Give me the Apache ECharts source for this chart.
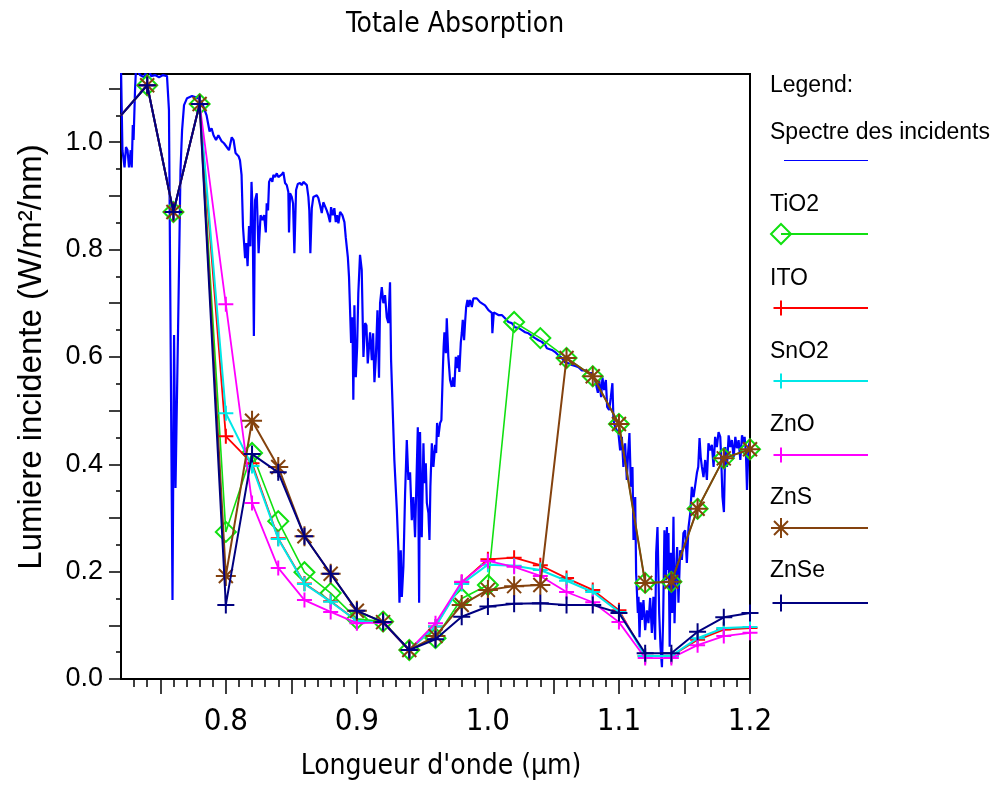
<!DOCTYPE html>
<html>
<head>
<meta charset="utf-8">
<script src="https://cdn.jsdelivr.net/npm/echarts@6/dist/echarts.min.js"></script>
<style>
  html, body { margin: 0; padding: 0; background: #ffffff; }
  #chart { width: 999px; height: 785px; }
</style>
</head>
<body>
<div id="chart"></div>
<script>
// ---- Incident solar spectrum (wavelength in µm, W/m²/nm) ----
const specWave = [
  0.7200,0.7211,0.7227,0.7238,0.7250,0.7261,0.7274,0.7282,0.7290,0.7296,0.7307,0.7315,0.7345,0.7376,0.7406,0.7429,0.7460,0.7490,0.7521,0.7551,
  0.7566,0.7593,0.7605,0.7616,0.7639,0.7654,0.7666,0.7681,0.7704,0.7742,0.7788,0.7816,0.7853,0.7876,0.7891,0.7906,0.7925,0.7943,0.7967,0.7986,
  0.8007,0.8024,0.8045,0.8059,0.8074,0.8097,0.8108,0.8120,0.8131,0.8147,0.8156,0.8166,0.8177,0.8187,0.8196,0.8204,0.8214,0.8223,0.8236,0.8250,
  0.8265,0.8279,0.8292,0.8305,0.8312,0.8322,0.8330,0.8343,0.8355,0.8363,0.8376,0.8389,0.8401,0.8414,0.8427,0.8439,0.8452,0.8465,0.8477,0.8482,
  0.8490,0.8503,0.8513,0.8523,0.8536,0.8549,0.8566,0.8579,0.8592,0.8605,0.8618,0.8630,0.8637,0.8645,0.8656,0.8668,0.8681,0.8694,0.8706,0.8719,
  0.8732,0.8744,0.8757,0.8770,0.8782,0.8795,0.8803,0.8816,0.8828,0.8839,0.8849,0.8859,0.8872,0.8889,0.8905,0.8915,0.8931,0.8940,0.8948,0.8956,
  0.8966,0.8973,0.8981,0.8992,0.9002,0.9011,0.9024,0.9037,0.9050,0.9063,0.9073,0.9083,0.9101,0.9114,0.9124,0.9134,0.9144,0.9157,0.9169,0.9177,
  0.9190,0.9202,0.9215,0.9228,0.9240,0.9253,0.9261,0.9271,0.9286,0.9305,0.9317,0.9325,0.9335,0.9343,0.9355,0.9368,0.9381,0.9393,0.9406,0.9419,
  0.9431,0.9444,0.9453,0.9465,0.9475,0.9482,0.9495,0.9508,0.9515,0.9526,0.9534,0.9546,0.9554,0.9561,0.9572,0.9584,0.9597,0.9605,0.9612,0.9622,
  0.9635,0.9645,0.9656,0.9662,0.9668,0.9679,0.9686,0.9698,0.9711,0.9724,0.9734,0.9744,0.9755,0.9765,0.9775,0.9782,0.9793,0.9801,0.9808,0.9818,
  0.9826,0.9834,0.9844,0.9851,0.9864,0.9877,0.9889,0.9902,0.9915,0.9927,0.9940,0.9953,0.9978,0.9992,1.0004,1.0017,1.0030,1.0034,1.0045,1.0055,
  1.0080,1.0106,1.0131,1.0156,1.0182,1.0208,1.0233,1.0259,1.0284,1.0309,1.0335,1.0360,1.0386,1.0411,1.0437,1.0450,1.0462,1.0488,1.0513,1.0538,
  1.0564,1.0589,1.0615,1.0640,1.0666,1.0691,1.0717,1.0742,1.0767,1.0793,1.0818,1.0839,1.0849,1.0864,1.0874,1.0887,1.0900,1.0910,1.0925,1.0938,
  1.0950,1.0958,1.0971,1.0996,1.1009,1.1022,1.1034,1.1047,1.1060,1.1070,1.1080,1.1091,1.1103,1.1111,1.1124,1.1131,1.1144,1.1149,1.1157,1.1166,
  1.1175,1.1187,1.1200,1.1213,1.1225,1.1238,1.1251,1.1263,1.1276,1.1284,1.1294,1.1307,1.1317,1.1328,1.1337,1.1347,1.1358,1.1366,1.1372,1.1378,
  1.1387,1.1396,1.1406,1.1416,1.1424,1.1434,1.1444,1.1454,1.1467,1.1480,1.1492,1.1505,1.1518,1.1531,1.1544,1.1556,1.1569,1.1582,1.1595,1.1605,
  1.1615,1.1624,1.1633,1.1645,1.1658,1.1671,1.1683,1.1696,1.1709,1.1722,1.1734,1.1747,1.1760,1.1773,1.1780,1.1790,1.1801,1.1811,1.1824,1.1837,
  1.1850,1.1862,1.1875,1.1888,1.1900,1.1913,1.1926,1.1939,1.1951,1.1959,1.1969,1.1977,1.1989,1.2002
];
const specValue = [
  1.140,0.985,0.953,0.991,0.985,0.953,0.985,0.953,1.032,1.004,1.097,1.140,1.125,1.121,1.140,1.123,1.125,1.121,1.125,1.123,
  1.060,0.147,0.641,0.356,0.706,0.948,1.022,1.069,1.082,1.086,1.082,1.075,1.050,1.020,1.026,1.013,1.004,1.013,1.002,0.998,
  0.991,0.985,1.009,1.004,0.980,0.974,0.966,0.939,0.842,0.784,0.812,0.769,0.844,0.806,0.926,0.873,0.639,0.892,0.905,0.793,
  0.864,0.855,0.864,0.832,0.886,0.873,0.926,0.933,0.926,0.939,0.935,0.942,0.935,0.933,0.940,0.944,0.924,0.920,0.907,0.832,
  0.905,0.898,0.886,0.793,0.911,0.922,0.924,0.920,0.926,0.929,0.920,0.898,0.873,0.793,0.877,0.898,0.896,0.901,0.896,0.883,
  0.868,0.888,0.886,0.873,0.864,0.851,0.879,0.864,0.877,0.851,0.864,0.849,0.870,0.864,0.851,0.823,0.786,0.749,0.687,0.626,
  0.674,0.520,0.696,0.562,0.618,0.719,0.790,0.762,0.600,0.663,0.659,0.588,0.646,0.594,0.644,0.553,0.594,0.687,0.561,0.700,
  0.730,0.700,0.715,0.674,0.663,0.739,0.594,0.520,0.408,0.315,0.240,0.142,0.240,0.153,0.209,0.346,0.445,0.371,0.385,0.296,
  0.339,0.264,0.352,0.469,0.142,0.460,0.264,0.439,0.365,0.402,0.328,0.309,0.259,0.358,0.439,0.395,0.436,0.421,0.477,0.451,
  0.477,0.482,0.575,0.618,0.646,0.607,0.672,0.600,0.557,0.544,0.562,0.544,0.600,0.579,0.603,0.572,0.626,0.646,0.669,0.631,
  0.665,0.693,0.706,0.693,0.706,0.693,0.709,0.711,0.709,0.709,0.702,0.700,0.696,0.693,0.687,0.687,0.682,0.644,0.683,0.682,
  0.678,0.678,0.672,0.665,0.663,0.655,0.654,0.650,0.646,0.644,0.639,0.635,0.631,0.628,0.622,0.616,0.618,0.613,0.609,0.603,
  0.598,0.590,0.588,0.585,0.583,0.581,0.575,0.575,0.570,0.570,0.557,0.533,0.557,0.525,0.562,0.538,0.557,0.507,0.501,0.525,
  0.551,0.482,0.469,0.458,0.426,0.451,0.395,0.439,0.371,0.421,0.458,0.358,0.395,0.259,0.339,0.197,0.123,0.153,0.078,0.143,
  0.110,0.147,0.091,0.128,0.104,0.151,0.086,0.153,0.073,0.235,0.283,0.123,0.060,0.022,0.110,0.277,0.184,0.283,0.203,0.272,
  0.060,0.235,0.123,0.302,0.104,0.197,0.246,0.142,0.240,0.222,0.272,0.277,0.216,0.283,0.309,0.358,0.339,0.361,0.384,0.395,
  0.449,0.413,0.395,0.376,0.408,0.371,0.439,0.426,0.436,0.395,0.451,0.432,0.460,0.451,0.413,0.339,0.311,0.432,0.395,0.454,
  0.432,0.445,0.413,0.451,0.430,0.445,0.408,0.454,0.439,0.451,0.421,0.352,0.432,0.445
];

// ---- Absorbed light per coating, sampled every 0.02 µm ----
const sampleWave = [0.72,0.74,0.76,0.78,0.80,0.82,0.84,0.86,0.88,0.90,0.92,0.94,0.96,0.98,1.00,1.02,1.04,1.06,1.08,1.10,1.12,1.14,1.16,1.18,1.20];
const tio2 = [1.050,1.106,0.870,1.071,0.274,0.421,0.294,0.199,0.160,0.112,0.107,0.054,0.076,0.150,0.175,0.665,0.635,0.598,0.564,0.475,0.179,0.181,0.317,0.411,0.428];
const ito  = [1.050,1.106,0.870,1.071,0.452,0.402,0.262,0.178,0.145,0.108,0.105,0.054,0.098,0.180,0.223,0.226,0.212,0.188,0.166,0.128,0.043,0.043,0.073,0.092,0.095];
const sno2 = [1.050,1.106,0.870,1.071,0.495,0.397,0.261,0.177,0.144,0.108,0.105,0.054,0.098,0.177,0.213,0.211,0.203,0.183,0.162,0.125,0.043,0.043,0.076,0.095,0.097];
const zno  = [1.050,1.106,0.870,1.071,0.698,0.328,0.207,0.147,0.125,0.104,0.105,0.054,0.104,0.181,0.220,0.209,0.192,0.162,0.143,0.106,0.039,0.039,0.063,0.080,0.086];
const zns  = [1.050,1.106,0.870,1.071,0.192,0.481,0.395,0.266,0.196,0.127,0.106,0.054,0.080,0.138,0.166,0.173,0.175,0.598,0.564,0.475,0.179,0.181,0.317,0.411,0.428];
const znse = [1.050,1.106,0.870,1.071,0.138,0.419,0.385,0.266,0.196,0.127,0.106,0.054,0.074,0.116,0.135,0.140,0.141,0.138,0.138,0.123,0.048,0.048,0.088,0.115,0.123];

// ---- Axis ticks and labels ----
const xLabelValues = [0.8, 0.9, 1.0, 1.1, 1.2];
const xMajorTicks = [0.75, 0.80, 0.85, 0.90, 0.95, 1.00, 1.05, 1.10, 1.15, 1.20];
const xMinorTicks = [0.73,0.74,0.76,0.77,0.78,0.79,0.81,0.82,0.83,0.84,0.86,0.87,0.88,0.89,0.91,0.92,0.93,0.94,0.96,0.97,0.98,0.99,
                     1.01,1.02,1.03,1.04,1.06,1.07,1.08,1.09,1.11,1.12,1.13,1.14,1.16,1.17,1.18,1.19];
const yLabelValues = [0.0, 0.2, 0.4, 0.6, 0.8, 1.0];
const yMajorTicks = [0.0, 0.1, 0.2, 0.3, 0.4, 0.5, 0.6, 0.7, 0.8, 0.9, 1.0, 1.1];
const yMinorTicks = [0.05, 0.15, 0.25, 0.35, 0.45, 0.55, 0.65, 0.75, 0.85, 0.95, 1.05];

const SANS = '"Liberation Sans", Arial, Helvetica, sans-serif';
const NARROW = '"Liberation Sans Narrow", "Arial Narrow", "DejaVu Sans Condensed", "Liberation Sans", sans-serif';

const PLUS = 'path://M0,10L20,10M10,0L10,20';
const STAR = 'path://M0,10L20,10M10,0L10,20M3,3L17,17M3,17L17,3';

const coatings = [
  { name: 'TiO2', values: tio2, color: '#11e011', symbol: 'diamond', size: 20, width: 1.6 },
  { name: 'ITO',  values: ito,  color: '#ff0000', symbol: PLUS, size: 15, width: 1.8 },
  { name: 'SnO2', values: sno2, color: '#00e8e8', symbol: PLUS, size: 15, width: 2 },
  { name: 'ZnO',  values: zno,  color: '#ff00ff', symbol: PLUS, size: 15, width: 1.8 },
  { name: 'ZnS',  values: zns,  color: '#84420e', symbol: STAR, size: 20, width: 2 },
  { name: 'ZnSe', values: znse, color: '#000080', symbol: PLUS, size: 17, width: 2 }
];

const chart = echarts.init(document.getElementById('chart'), null, { renderer: 'canvas' });

const gridBox = { left: 121, top: 74, right: 249, bottom: 106 };

const series = [{
  name: 'Spectre des incidents',
  type: 'line',
  xAxisIndex: 0, yAxisIndex: 0,
  data: specWave.map((w, i) => [w, specValue[i]]),
  showSymbol: false,
  symbol: 'none',
  lineStyle: { color: '#0000ff', width: 2.2 },
  clip: true,
  silent: true,
  z: 2
}];

coatings.forEach((c, k) => {
  series.push({
    name: c.name,
    type: 'line',
    xAxisIndex: 0, yAxisIndex: 0,
    data: sampleWave.map((w, i) => i === 0 ? { value: [w, c.values[i]], symbol: 'none' } : [w, c.values[i]]),
    symbol: c.symbol,
    symbolSize: c.size,
    showSymbol: true,
    showAllSymbol: true,
    lineStyle: { color: c.color, width: c.width },
    itemStyle: { color: 'rgba(0,0,0,0)', borderColor: c.color, borderWidth: 2 },
    clip: true,
    silent: true,
    z: 3 + k
  });
});

// Legend drawn as a column: name above, sample line below
const legendItems = [];
const legX = 770;
legendItems.push({ type: 'text', x: legX, y: 86, style: { text: 'Legend:', font: '23px ' + SANS, fill: '#000', textAlign: 'left', textVerticalAlign: 'middle' } });
legendItems.push({ type: 'text', x: legX, y: 133, style: { text: 'Spectre des incidents', font: '23px ' + SANS, fill: '#000', textAlign: 'left', textVerticalAlign: 'middle' } });
legendItems.push({ type: 'line', shape: { x1: 784, y1: 160.5, x2: 868, y2: 160.5 }, style: { stroke: '#0000ff', lineWidth: 1 } });

const legTextY = [205, 279, 352, 425, 498, 571];
const legLineY = [234, 308, 381, 455, 528, 603];
coatings.forEach((c, i) => {
  const ty = legTextY[i], ly = legLineY[i], cx = 781;
  legendItems.push({ type: 'text', x: legX, y: ty, style: { text: c.name, font: '23px ' + SANS, fill: '#000', textAlign: 'left', textVerticalAlign: 'middle' } });
  legendItems.push({ type: 'line', shape: { x1: cx, y1: ly, x2: 868, y2: ly }, style: { stroke: c.color, lineWidth: 2 } });
  const h = c.size / 2;
  if (c.symbol === 'diamond') {
    legendItems.push({ type: 'polygon', shape: { points: [[cx, ly - h], [cx + h, ly], [cx, ly + h], [cx - h, ly]] }, style: { fill: 'none', stroke: c.color, lineWidth: 2 } });
  } else {
    legendItems.push({ type: 'line', shape: { x1: cx - h, y1: ly, x2: cx + h, y2: ly }, style: { stroke: c.color, lineWidth: 2 } });
    legendItems.push({ type: 'line', shape: { x1: cx, y1: ly - h, x2: cx, y2: ly + h }, style: { stroke: c.color, lineWidth: 2 } });
    if (c.symbol === STAR) {
      const d = h * 0.7;
      legendItems.push({ type: 'line', shape: { x1: cx - d, y1: ly - d, x2: cx + d, y2: ly + d }, style: { stroke: c.color, lineWidth: 2 } });
      legendItems.push({ type: 'line', shape: { x1: cx - d, y1: ly + d, x2: cx + d, y2: ly - d }, style: { stroke: c.color, lineWidth: 2 } });
    }
  }
});

const titles = [
  { type: 'text', x: 455, y: 25, style: { text: 'Totale Absorption', font: '28px ' + NARROW, fill: '#000', textAlign: 'center', textVerticalAlign: 'middle' } },
  { type: 'text', x: 441, y: 767, style: { text: 'Longueur d\'onde (\u03bcm)', font: '28px ' + NARROW, fill: '#000', textAlign: 'center', textVerticalAlign: 'middle' } },
  { type: 'text', x: 32, y: 357, rotation: Math.PI / 2, style: { text: 'Lumiere incidente (W/m\u00b2/nm)', font: '33px ' + SANS, fill: '#000', textAlign: 'center', textVerticalAlign: 'middle' } }
];

const hiddenLabel = { show: false };
const noSplit = { show: false };

chart.setOption({
  animation: false,
  backgroundColor: '#ffffff',
  grid: [
    Object.assign({ show: true, borderColor: '#000', borderWidth: 2, backgroundColor: 'rgba(0,0,0,0)', containLabel: false }, gridBox),
    Object.assign({ show: false, containLabel: false }, gridBox)
  ],
  xAxis: [
    {
      type: 'value', gridIndex: 0, position: 'bottom', min: 0.72, max: 1.2,
      axisLine: { show: true, onZero: false, lineStyle: { color: '#000', width: 2 } },
      axisTick: { show: true, customValues: xMajorTicks, length: 15, lineStyle: { color: '#000', width: 1.5 } },
      axisLabel: { show: true, customValues: xLabelValues, formatter: v => v.toFixed(1), margin: 27, color: '#000', fontSize: 31, fontFamily: NARROW },
      splitLine: noSplit
    },
    {
      type: 'value', gridIndex: 1, position: 'bottom', min: 0.72, max: 1.2,
      axisLine: { show: false, onZero: false },
      axisTick: { show: true, customValues: xMinorTicks, length: 8, lineStyle: { color: '#000', width: 1.5 } },
      axisLabel: hiddenLabel,
      splitLine: noSplit
    }
  ],
  yAxis: [
    {
      type: 'value', gridIndex: 0, position: 'left', min: 0, max: 1.127,
      axisLine: { show: true, onZero: false, lineStyle: { color: '#000', width: 2 } },
      axisTick: { show: true, customValues: yMajorTicks, length: 12, lineStyle: { color: '#000', width: 1.5 } },
      axisLabel: { show: true, customValues: yLabelValues, formatter: v => v.toFixed(1), margin: 18, color: '#000', fontSize: 27, fontFamily: SANS },
      splitLine: noSplit
    },
    {
      type: 'value', gridIndex: 1, position: 'left', min: 0, max: 1.127,
      axisLine: { show: false, onZero: false },
      axisTick: { show: true, customValues: yMinorTicks, length: 5, lineStyle: { color: '#000', width: 1.5 } },
      axisLabel: hiddenLabel,
      splitLine: noSplit
    }
  ],
  series: series,
  graphic: { elements: titles.concat(legendItems) }
});
</script>
</body>
</html>
